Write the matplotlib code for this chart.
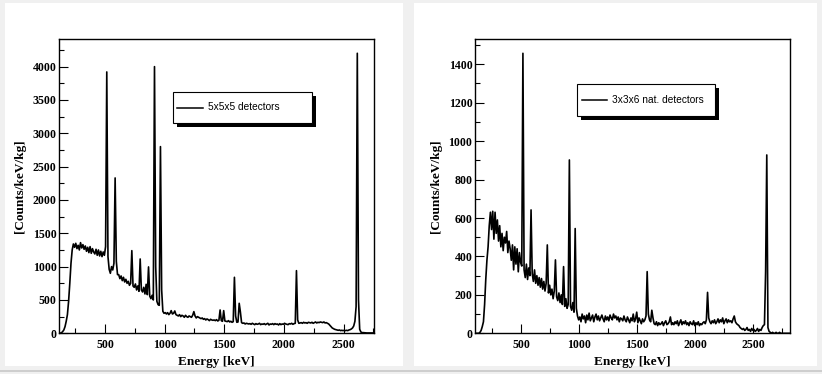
import matplotlib.pyplot as plt
import numpy as np
from matplotlib.patches import Rectangle
from matplotlib.lines import Line2D
from matplotlib.ticker import MultipleLocator

# counts per 10 keV bin, 5x5x5 detectors, first bin starts at 110 keV
bin_start_a = 110
counts_a = [
    0, 2, 8, 25, 50, 100, 180, 280, 480, 750,
    1050, 1250, 1340, 1290, 1350, 1270, 1320, 1250, 1360, 1280,
    1330, 1260, 1310, 1230, 1290, 1210, 1300, 1200, 1270, 1220,
    1190, 1260, 1170, 1250, 1160, 1230, 1150, 1220, 1170, 1300,
    3920, 1150, 960, 900, 1000, 950, 1050, 2330, 1080, 880,
    880, 820, 860, 790, 840, 770, 810, 750, 780, 720,
    750, 1240, 710, 690, 740, 650, 710, 630, 1115, 650,
    620, 690, 590, 735, 580, 996, 560, 520, 570, 500,
    4000, 1000, 480, 430, 420, 2800, 650, 330, 300, 310,
    290, 310, 280, 300, 340, 290, 300, 335, 280, 270,
    260, 280, 250, 270, 260, 240, 270, 250, 240, 260,
    250, 240, 270, 325, 260, 230, 250, 240, 230, 220,
    230, 210, 220, 200, 215, 205, 190, 210, 200, 195,
    200, 190, 205, 185, 195, 350, 190, 180, 340, 185,
    180, 175, 190, 170, 180, 165, 175, 840, 260, 165,
    170, 450, 320, 160, 150, 155, 140, 150, 145, 140,
    145, 135, 150, 140, 130, 145, 135, 140, 150, 130,
    140, 135, 145, 130, 140, 150, 125, 140, 135, 145,
    130, 145, 135, 140, 125, 145, 130, 140, 135, 150,
    140, 135, 130, 145, 140, 150, 135, 145, 150, 940,
    200, 150, 155, 160, 150, 165, 155, 160, 150, 165,
    160, 155, 165, 150, 160, 170, 155, 165, 160, 170,
    165, 160, 170, 155, 160, 150, 140, 120, 100, 80,
    70, 60, 55, 50, 45, 50, 40, 45, 40, 45,
    40, 45, 40, 50, 55, 65, 80, 110, 180, 400,
    4200, 500, 60, 20, 10, 10, 8, 5, 5, 5,
    5, 5, 5, 5, 5,
]

# counts per 10 keV bin, 3x3x6 nat. detectors, first bin starts at 100 keV
bin_start_b = 100
counts_b = [
    0, 0, 0, 0, 5, 15, 35, 60, 150, 280,
    380, 450, 560, 630, 540, 635, 490, 630, 520, 590,
    480, 560, 450, 520, 430, 500, 470, 530, 420, 480,
    440, 380, 460, 330, 450, 360, 440, 320, 420, 370,
    350, 1457, 330, 290, 360, 280, 340, 300, 642, 310,
    270, 330, 260, 300, 250, 290, 240, 285, 230, 270,
    220, 260, 460, 210, 250, 200, 230, 180, 220, 382,
    190, 170, 210, 160, 200, 150, 347, 140, 180, 130,
    150, 902, 140, 120, 160, 110, 545, 130, 90, 70,
    85, 60, 100, 75, 90, 55, 95, 70, 105, 65,
    80, 95, 60, 85, 100, 70, 90, 65, 80, 95,
    75, 60, 90, 70, 85, 65, 95, 80, 70, 100,
    80, 90, 70, 85, 60, 80, 75, 65, 90, 70,
    60, 85, 70, 55, 80, 65, 100, 60, 75, 110,
    55, 80, 65, 50, 75, 60, 70, 90, 321, 100,
    70, 60, 120, 80, 50, 45, 60, 40, 55, 45,
    50, 60, 40, 55, 65, 45, 50, 60, 85, 45,
    55, 45, 60, 50, 65, 40, 55, 70, 45, 60,
    50, 65, 45, 55, 40, 60, 50, 45, 65, 40,
    55, 45, 60, 40, 50, 45, 55, 60, 50, 70,
    213, 80, 60, 50, 65, 55, 70, 50, 60, 75,
    55, 70, 60, 80, 50, 65, 75, 55, 70, 60,
    65, 55, 75, 90, 60, 50, 45, 40, 30, 25,
    20, 25, 15, 20, 30, 15, 20, 10, 25, 15,
    20, 10, 15, 25, 10, 20, 15, 30, 40, 45,
    320, 928, 30, 10, 5, 0, 5, 0, 0, 5,
    0, 0, 5, 0, 0, 0, 0, 0, 0, 0, 0, 0,
]

labels = ["5x5x5 detectors", "3x3x6 nat. detectors"]

W, H = 822, 374
fig = plt.figure(figsize=(W / 100, H / 100), dpi=100, facecolor='#f0f0f0')


def fx(x):
    return x / W


def fy(y):
    return 1 - y / H


# white pads
for x0, x1 in [(4.5, 403), (414, 817)]:
    fig.add_artist(Rectangle((fx(x0), fy(366)), fx(x1 - x0), (366 - 3) / H,
                             transform=fig.transFigure, facecolor='white',
                             edgecolor='none', zorder=-10))
fig.add_artist(Line2D([0, 1], [fy(371), fy(371)], transform=fig.transFigure,
                      color='#c8c8c8', lw=1.2, zorder=-9))

serif = dict(family='Liberation Serif', weight='bold')


def panel(left, right, start, counts, xlim, ylim, major, minor, label,
          leg_box, line_x):
    ax = fig.add_axes([fx(left), fy(333.3), fx(right - left), (333.3 - 39.3) / H])
    energy = start + 5 + 10 * np.arange(len(counts))
    ax.plot(energy, counts, color='black', lw=1.2)
    ax.set_xlim(*xlim)
    ax.set_ylim(*ylim)
    ax.xaxis.set_major_locator(MultipleLocator(500))
    ax.xaxis.set_minor_locator(MultipleLocator(250))
    ax.yaxis.set_major_locator(MultipleLocator(major))
    ax.yaxis.set_minor_locator(MultipleLocator(minor))
    ax.tick_params(which='both', direction='in', top=False, right=False,
                   width=0.8)
    ax.tick_params(which='major', length=6.5)
    ax.tick_params(which='minor', length=3.3)
    ax.tick_params(axis='x', pad=4)
    ax.tick_params(axis='y', pad=1.5)
    for sp in ax.spines.values():
        sp.set_linewidth(1.0)
    for t in ax.get_xticklabels() + ax.get_yticklabels():
        t.set_fontfamily('Liberation Serif')
        t.set_fontweight('bold')
        t.set_fontsize(8.6)
    ax.set_xlabel('Energy [keV]', fontsize=9.5, labelpad=4, **serif)
    ax.set_ylabel('[Counts/keV/kg]', fontsize=9.5, labelpad=5, **serif)

    # ROOT style legend with solid shadow
    bx0, by0, bx1, by1 = leg_box
    fig.add_artist(Rectangle((fx(bx0 + 4), fy(by1 + 4)), fx(bx1 - bx0),
                             (by1 - by0) / H, transform=fig.transFigure,
                             facecolor='black', edgecolor='none', zorder=5))
    fig.add_artist(Rectangle((fx(bx0), fy(by1)), fx(bx1 - bx0),
                             (by1 - by0) / H, transform=fig.transFigure,
                             facecolor='white', edgecolor='black', lw=0.8,
                             zorder=6))
    yc = (by0 + by1) / 2
    fig.add_artist(Line2D([fx(line_x[0]), fx(line_x[1])], [fy(yc), fy(yc)],
                          transform=fig.transFigure, color='black', lw=1.1,
                          zorder=7))
    fig.text(fx(line_x[1] + 5), fy(yc), label, fontsize=7.3,
             family='Liberation Sans', va='center', ha='left', zorder=7)
    return ax


panel(58.7, 374, bin_start_a, counts_a, (112, 2755), (0, 4410), 500, 250,
      labels[0], (173, 92, 312, 123), (177, 203))
panel(474.5, 790, bin_start_b, counts_b, (98, 2815), (0, 1530), 200, 100,
      labels[1], (577, 84, 715, 115.5), (582, 607))

fig.savefig('out.png', dpi=100, facecolor=fig.get_facecolor())
